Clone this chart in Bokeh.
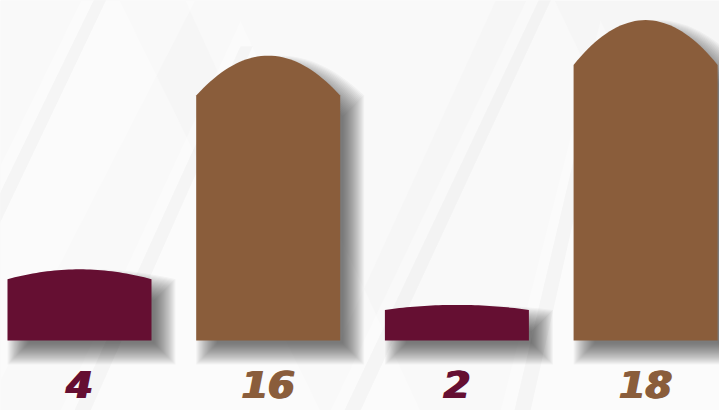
import numpy as np
from bokeh.plotting import figure
from bokeh.models import Range1d
from bokeh.core.properties import value
from bokeh.embed import file_html
from bokeh.resources import INLINE

# ---- data ----
labels = ["4", "16", "2", "18"]
values = [4, 16, 2, 18]
colors = ["#650F32", "#8A5D3B", "#650F32", "#8A5D3B"]

W, H = 719, 410
px_per_unit = 17.8          # vertical scale
base_px = 340               # baseline pixel from top
x0_px, dx_px = 79, 188.7    # first bar centre / spacing
bar_w_px = 144

y_start = -(H - base_px) / px_per_unit
y_end = base_px / px_per_unit
x_start = -x0_px / dx_px
x_end = (W - x0_px) / dx_px

p = figure(width=W, height=H, output_backend="svg", toolbar_location=None,
           x_range=Range1d(x_start, x_end), y_range=Range1d(y_start, y_end),
           min_border=0, border_fill_color="#F6F6F6",
           background_fill_color="#F6F6F6")
p.axis.visible = False
p.grid.visible = False
p.outline_line_color = None

ux = 1.0 / dx_px          # data units per pixel (x)
uy = 1.0 / px_per_unit    # data units per pixel (y)

# decorative background bands (pixel-space triangles converted to data)
def px_to_data(xs, ys):
    return [x_start + x * ux for x in xs], [y_end - y * uy for y in ys]

tri_px = [
    ([-120, 100, 320], [410, -40, 410]),
    ([60, 240, 420], [410, 20, 410]),
    ([330, 540, 750], [410, -30, 410]),
    ([500, 600, 800], [410, 20, 410]),
    ([180, 340, 500], [-10, 340, -10]),
    ([-200, 0, 200], [-10, 380, -10]),
]
for xs, ys in tri_px:
    dxs, dys = px_to_data(xs, ys)
    p.patch(dxs, dys, fill_color="white", fill_alpha=0.3, line_color=None)
for xs, ys in tri_px[:4]:
    dxs, dys = px_to_data([xs[0] + 14, xs[1], xs[1] + 12, xs[0] + 30], [ys[0], ys[1] + 26, ys[1] + 26, ys[0]])
    p.patch(dxs, dys, fill_color="#E4E4E4", fill_alpha=0.25, line_color=None)

# ---- bars with arched tops ----
half = bar_w_px / 2 * ux
k = 0.14
t = np.linspace(-1, 1, 41)

def bar_shape(i, v, grow=0.0):
    side = v * (1 - k)
    hw = half + grow * ux
    top_x = i + t * hw
    top_y = side + v * k * (1 - t ** 2) + grow * uy
    xs = [i - hw] + list(top_x) + [i + hw]
    ys = [-grow * uy] + list(top_y) + [-grow * uy]
    return xs, ys

# soft drop shadows: stacked faint layers from wide to narrow
grows = np.arange(12, -10, -1.0)
for i, v in enumerate(values):
    for g in grows:
        xs, ys = bar_shape(i, v, grow=g)
        sx = [x + 12 * ux for x in xs]
        sy = [y - 12 * uy for y in ys]
        p.patch(sx, sy, fill_color="#202020", fill_alpha=0.034, line_color=None)

for i, v in enumerate(values):
    xs, ys = bar_shape(i, v)
    p.patch(xs, ys, fill_color=colors[i], line_color=None)

# ---- value labels ----
label_y = -(384 - base_px) / px_per_unit
for dxo in (0, 1.2, 2.4):
    p.text(x=list(range(len(values))), y=[label_y] * len(values), text=labels,
           x_offset=dxo - 1.2,
           text_color=colors, text_font=value("DejaVu Sans"),
           text_font_style="bold italic", text_font_size="38px",
           text_align="center", text_baseline="middle")

open("out.html", "w").write(file_html(p, INLINE))
